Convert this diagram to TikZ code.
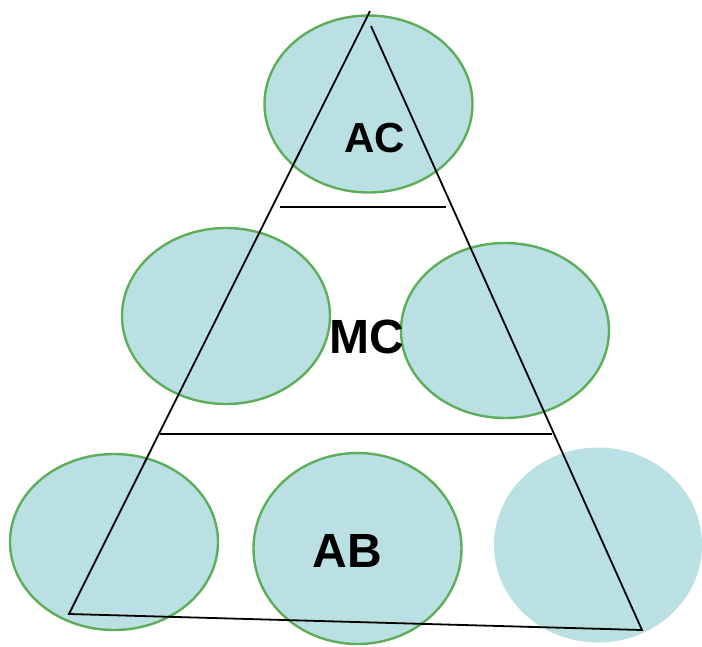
\documentclass[tikz,border=0pt]{standalone}
\usepackage{fontspec}
\setmainfont{Liberation Sans}
\usetikzlibrary{shapes.geometric}
\definecolor{cfill}{HTML}{BBE0E3}
\definecolor{cedge}{HTML}{5DAE5B}
\tikzset{
  blob/.style={ellipse, fill=cfill, draw=cedge, line width=2.4pt, inner sep=0pt},
  blobplain/.style={ellipse, fill=cfill, inner sep=0pt},
  lbl/.style={font=\fontsize{42}{50}\selectfont\bfseries, inner sep=0pt},
  lblbig/.style={font=\fontsize{48}{56}\selectfont\bfseries, inner sep=0pt},
  tri/.style={line width=1.8pt, black}
}
\begin{document}
\begin{tikzpicture}[x=1pt,y=-1pt]
\useasboundingbox (0,0) rectangle (702,646);
\node[blob, minimum width=208pt, minimum height=177pt] (top) at (368.5,104) {};
\node[blob, minimum width=208pt, minimum height=176pt] (ml) at (226,316) {};
\node[blob, minimum width=208pt, minimum height=175pt] (mr) at (505,330.5) {};
\node[blob, minimum width=208pt, minimum height=176pt] (bl) at (114,542) {};
\node[blob, minimum width=208pt, minimum height=191pt] (bm) at (357.5,548.5) {};
\node[blobplain, minimum width=208pt, minimum height=195pt] (br) at (598,545) {};
\node[lbl] (ac) at (374.5,138) {AC};
\node[lblbig] (mc) at (367,337) {MC};
\node[lblbig] (ab) at (347.5,550.5) {AB};
\coordinate (apexL) at (370,11);
\coordinate (apexR) at (371,26);
\coordinate (vL) at (69,614);
\coordinate (vR) at (642,630);
\coordinate (h1a) at (280,207);
\coordinate (h1b) at (446,207);
\coordinate (h2a) at (160,434);
\coordinate (h2b) at (552,434);
\draw[tri] (apexL) -- (vL) -- (vR) -- (apexR);
\draw[tri] (h1a) -- (h1b);
\draw[tri] (h2a) -- (h2b);
\end{tikzpicture}
\end{document}
